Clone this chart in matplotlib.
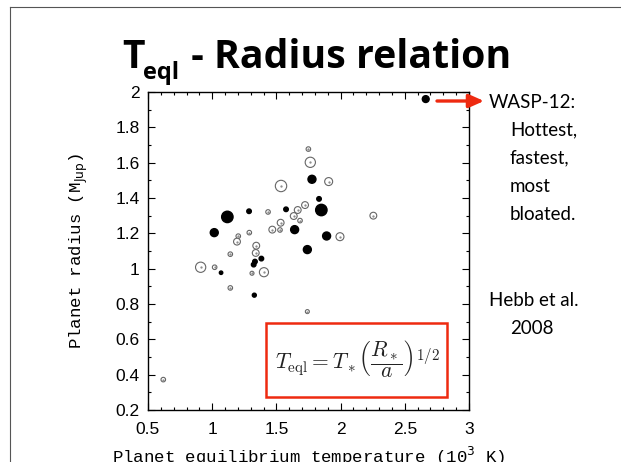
import matplotlib
matplotlib.use("Agg")
import matplotlib.pyplot as plt
import numpy as np
from matplotlib.ticker import MultipleLocator
from matplotlib.patches import Rectangle

# Planets with filled symbols (Teq in 10^3 K, radius)
filled_teq = [2.663, 1.777, 1.832, 1.850, 1.575, 1.287, 1.118, 1.016, 1.642, 1.891,
              1.741, 1.383, 1.333, 1.323, 1.069, 1.328]
filled_rad = [1.960, 1.506, 1.395, 1.332, 1.336, 1.325, 1.293, 1.204, 1.221, 1.185,
              1.108, 1.057, 1.040, 1.023, 0.977, 0.850]
filled_dot = [6, 7, 4, 10, 4, 4, 10, 7, 7, 7, 7, 4, 4, 4, 3, 3.5]

# Planets with open symbols
open_teq = [1.749, 1.764, 1.907, 1.536, 1.723, 1.666, 1.635, 1.684, 1.435, 2.255,
            1.203, 1.193, 1.289, 1.533, 1.468, 1.528, 1.995, 1.343, 1.339, 1.141,
            0.910, 1.019, 1.310, 1.403, 1.141, 1.741, 0.619]
open_rad = [1.677, 1.602, 1.493, 1.468, 1.360, 1.332, 1.298, 1.272, 1.321, 1.300,
            1.184, 1.153, 1.204, 1.260, 1.221, 1.219, 1.181, 1.130, 1.089, 1.082,
            1.008, 1.008, 0.974, 0.980, 0.891, 0.757, 0.372]
open_dot = [4, 9, 7, 10, 6, 6, 6, 4, 4, 6,
            4, 6, 4, 6, 6, 4, 7, 6, 6, 4,
            9, 4, 3.5, 8, 4, 3.5, 4]

fig = plt.figure(figsize=(6.21, 4.62), dpi=100)

# borde de la diapositiva
fig.add_artist(plt.Line2D([9.5 / 621, 9.5 / 621], [0, 1 - 6.5 / 462], color="#555555", lw=0.8))
fig.add_artist(plt.Line2D([9.5 / 621, 1], [1 - 6.5 / 462, 1 - 6.5 / 462], color="#555555", lw=0.8))

ax = fig.add_axes([148 / 621, 52 / 462, 321 / 621, 318 / 462])

px = 0.82  # pixel -> points (un poco mas grande)
ax.scatter(open_teq, open_rad, s=(np.array(open_dot) * px) ** 2, facecolors="white",
           edgecolors="#666666", linewidths=0.8, zorder=3)
ax.scatter(open_teq, open_rad, s=0.4, color="#888888", zorder=4)
ax.scatter(filled_teq, filled_rad, s=(np.array(filled_dot) * px) ** 2, color="black", zorder=5)

ax.set_xlim(0.5, 3)
ax.set_ylim(0.2, 2)
ax.set_xticks([0.5, 1, 1.5, 2, 2.5, 3], ["0.5", "1", "1.5", "2", "2.5", "3"])
ax.set_yticks([0.2, 0.4, 0.6, 0.8, 1, 1.2, 1.4, 1.6, 1.8, 2],
              ["0.2", "0.4", "0.6", "0.8", "1", "1.2", "1.4", "1.6", "1.8", "2"])
ax.xaxis.set_minor_locator(MultipleLocator(0.1))
ax.yaxis.set_minor_locator(MultipleLocator(0.1))
ax.tick_params(which="both", direction="in", top=True, right=True, width=0.8,
               labelsize=12.5, labelfontfamily="Liberation Sans")
ax.tick_params(which="major", length=5)
ax.tick_params(axis="x", which="major", pad=9)
ax.tick_params(axis="y", which="major", pad=6)
ax.tick_params(which="minor", length=2.5)
for sp in ax.spines.values():
    sp.set_linewidth(1.0)

ax.set_xlabel(r"Planet equilibrium temperature (10$^{3}$ K)", family="Liberation Mono",
              fontsize=12.5, labelpad=5)
ax.set_ylabel(r"Planet radius (M$_{\rm Jup}$)", family="Liberation Mono", fontsize=12.5,
              labelpad=18)

# caja con la ecuacion
ax.add_patch(Rectangle((0.368, 0.041), 0.563, 0.233, transform=ax.transAxes,
                       facecolor="white", edgecolor="#ee2a10", lw=1.8, zorder=6))
ax.text(0.652, 0.16, r"$T_{\rm eql} = T_*\left(\dfrac{R_*}{a}\right)^{1/2}$",
        transform=ax.transAxes, ha="center", va="center", fontsize=15.5, color="#222222",
        math_fontfamily="cm", zorder=7)

# titulo por partes: T, subindice eql, resto
renderer = fig.canvas.get_renderer()
x0 = 122 / 621
yb = 1 - 68 / 462
tfont = dict(fontweight="bold", family="Open Sans", va="baseline")
t1 = fig.text(x0, yb, "T", fontsize=28, **tfont)
w1 = t1.get_window_extent(renderer).width / 621
t2 = fig.text(x0 + w1 - 1 / 621, yb - 11 / 462, "eql", fontsize=17, **tfont)
w2 = t2.get_window_extent(renderer).width / 621
fig.text(x0 + w1 + w2 + 1 / 621, yb, " - Radius relation", fontsize=28.3, **tfont)

# flecha hacia WASP-12
ax.annotate("", xy=(484 / 621, 1 - 101 / 462), xycoords="figure fraction",
            xytext=(437 / 621, 1 - 101 / 462), textcoords="figure fraction",
            arrowprops=dict(arrowstyle="-|>,head_length=0.9,head_width=0.4", color="#ee2a10",
                            lw=2.4, shrinkA=0, shrinkB=0))

side_font = dict(fontsize=13.5, family="Lato", va="center", ha="left")
fig.text(489 / 621, 1 - 102 / 462, "WASP-12:", **side_font)
for i, line in enumerate(["Hottest,", "fastest,", "most", "bloated."]):
    fig.text(510 / 621, 1 - (130 + 28 * i) / 462, line, **side_font)
fig.text(489 / 621, 1 - 300 / 462, "Hebb et al.", **side_font)
fig.text(510 / 621, 1 - 328 / 462, "2008", **side_font)

fig.savefig("out.png", dpi=100)
